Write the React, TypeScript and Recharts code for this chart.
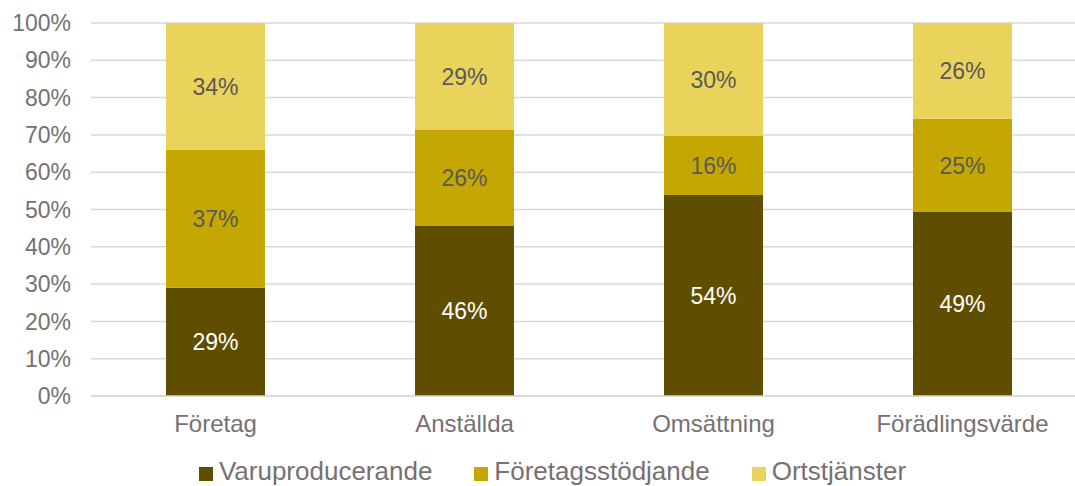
import React from "react";
import { BarChart, Bar, XAxis, YAxis, CartesianGrid, LabelList, Legend } from "recharts";

const categories = ["Företag", "Anställda", "Omsättning", "Förädlingsvärde"];
const varuproducerande = [29, 45.6, 53.9, 49.3];
const foretagsstodjande = [37, 25.7, 15.8, 25.0];
const ortstjanster = [34, 28.7, 30.3, 25.7];
const yTicks = [0, 10, 20, 30, 40, 50, 60, 70, 80, 90, 100];

const series = [
  { key: "varu", name: "Varuproducerande", color: "#604e00", label: "#ffffff", values: varuproducerande },
  { key: "foretag", name: "Företagsstödjande", color: "#c4a700", label: "#595959", values: foretagsstodjande },
  { key: "ort", name: "Ortstjänster", color: "#ead35a", label: "#595959", values: ortstjanster },
];

const data = categories.map((c, i) => {
  const row: Record<string, string | number> = { name: c };
  series.forEach((s) => {
    row[s.key] = s.values[i];
  });
  return row;
});

const FONT = "Arial, 'Liberation Sans', sans-serif";
const GREY = "#767171";

function LegendContent() {
  return (
    <div
      style={{
        display: "flex",
        justifyContent: "center",
        alignItems: "center",
        fontFamily: FONT,
        fontSize: 26,
        lineHeight: "30px",
        height: 30,
        color: GREY,
        paddingLeft: 18,
      }}
    >
      {series.map((s, i) => (
        <div
          key={s.key}
          style={{ display: "flex", alignItems: "center", marginRight: i < series.length - 1 ? 42 : 0 }}
        >
          <span
            style={{ display: "inline-block", width: 14, height: 14, background: s.color, marginRight: 6, marginTop: 6 }}
          />
          <span>{s.name}</span>
        </div>
      ))}
    </div>
  );
}

export default function App() {
  return (
    <div style={{ position: "absolute", left: 0, top: 0, width: 1075, height: 486, overflow: "hidden", background: "#fff" }}>
      <BarChart
        width={1100}
        height={486}
        data={data}
        margin={{ top: 23, right: 13, left: 0, bottom: 0 }}
        barSize={99}
      >
        <CartesianGrid vertical={false} stroke="#d9d9d9" strokeWidth={1.5} />
        <XAxis
          dataKey="name"
          tickLine={false}
          axisLine={{ stroke: "#d9d9d9", strokeWidth: 1.5 }}
          height={60}
          tickMargin={13}
          tick={{ fontSize: 24, fill: GREY, fontFamily: FONT }}
        />
        <YAxis
          domain={[0, 100]}
          ticks={yTicks}
          tickFormatter={(v) => `${v}%`}
          axisLine={false}
          tickLine={false}
          width={91}
          tickMargin={14}
          interval={0}
          tick={{ fontSize: 23, fill: GREY, fontFamily: FONT }}
        />
        <Legend
          verticalAlign="bottom"
          height={30}
          wrapperStyle={{ bottom: 0 }}
          content={<LegendContent />}
        />
        {series.map((s) => (
          <Bar key={s.key} dataKey={s.key} name={s.name} stackId="a" fill={s.color} isAnimationActive={false}>
            <LabelList
              dataKey={s.key}
              position="center"
              formatter={(v: number) => `${Math.round(v)}%`}
              style={{ fontSize: 23, fill: s.label, fontFamily: FONT }}
            />
          </Bar>
        ))}
      </BarChart>
    </div>
  );
}
